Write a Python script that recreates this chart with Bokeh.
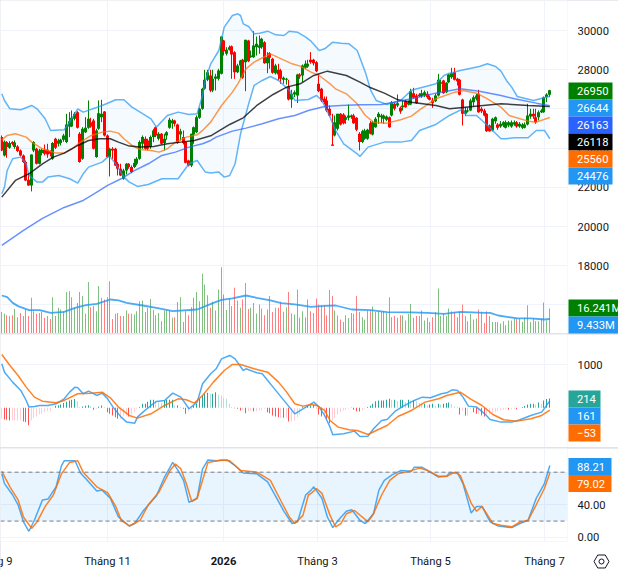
import math
from bokeh.plotting import figure
from bokeh.layouts import column, row
from bokeh.models import Range1d, LinearAxis, FixedTicker, NumeralTickFormatter, Span, BoxAnnotation, ColumnDataSource
from bokeh.core.properties import value
from bokeh.embed import file_html
from bokeh.resources import INLINE

# ---- price candles (203 daily bars) ----
opens = [24560,23625,24305,24016,24305,24050,24084,23880,23625,23285,
22384,22095,23880,23965,23200,23744,23914,23914,23846,23455,
24475,24220,24254,24424,24305,25104,25104,25495,25835,24730,
23455,24815,25036,25325,25410,23540,24985,25580,25869,24645,
23540,23965,23965,23200,22945,22435,22860,23200,23030,23030,
23200,23455,24220,24475,24390,24050,24560,25070,24475,24730,
24254,24645,25036,25274,25410,25206,24696,24560,24305,23370,
23115,24696,24815,25546,26005,27025,27484,27705,26940,27535,
27535,27790,29490,28810,29014,29201,28895,27875,28215,28504,
28385,29490,28640,28640,29150,29116,29150,29405,28334,28844,
28555,27824,27994,27960,27484,27484,27144,26481,26736,26685,
27756,27705,28096,28164,28504,28504,28385,27280,27025,26515,
26430,26005,24186,24645,24985,25750,25716,25444,25546,25580,
25665,25546,24730,24305,24475,24475,25274,24696,25070,25580,
25580,25495,25444,25580,25665,26260,26175,26056,26090,26396,
26226,26226,26804,26685,26736,26651,26685,26770,26600,26430,
26396,26685,27280,27450,26855,27365,27620,27875,27535,27484,
26481,25750,25869,25920,26345,26515,26770,26005,25920,25750,
25155,24900,25376,25206,25104,25155,25036,25155,25104,25206,
25325,25104,25036,25036,25206,25614,25750,25580,25580,25835,
25835,26600,26719]
highs = [24645,24390,24356,24356,24356,24390,24152,23931,23676,23370,
22690,23676,24356,24016,23965,23965,24186,24220,23880,24305,
24526,24475,24475,24730,25750,25835,25920,25835,25886,24815,
25070,25580,26430,25546,25495,24985,26430,26464,25886,24696,
24016,24050,24016,23285,23200,22945,23234,23234,23115,23455,
23540,24390,24645,24594,24475,24645,24985,25104,24815,24764,
24730,24866,25546,25495,25444,25240,24985,24900,24356,23404,
24730,25104,25665,26056,27076,27994,27994,27994,27994,27790,
28045,29694,29524,29150,29235,29235,28946,28300,28504,28555,
29524,29524,28980,29966,29694,29745,29626,29456,28895,28895,
28606,28300,28300,28045,27654,27586,27484,26974,26940,27790,
27824,28266,28470,28504,28895,28555,28436,27790,27076,26634,
26634,26175,25750,25665,25750,25784,25784,25665,26226,25716,
25750,25580,24815,24934,24985,24985,25376,25376,25580,25835,
25750,25716,25665,25614,26396,26345,26736,26124,26430,26464,
26430,27025,27076,26770,26804,26974,26940,26906,26685,26566,
26770,27790,27484,27484,27365,27790,28096,28096,27586,27535,
26515,26090,26056,26515,26685,26770,26974,26090,26005,25784,
25206,25546,25614,25274,25376,25376,25410,25376,25410,25410,
25376,25325,25274,25308,26260,26005,26005,26005,25920,25988,
26634,26804,26974]
lows = [23846,23574,23506,23965,24135,23965,23795,23574,23234,22316,
22078,21789,23795,23166,23166,23625,23625,23506,23574,23404,
23948,24084,24135,24322,24254,24560,25070,25410,25002,23251,
23404,24764,24985,25036,23931,23506,24934,25325,24594,23506,
22554,23455,23081,22605,22571,22384,22656,22945,22724,22979,
23115,23404,23965,23914,23880,23965,24305,24560,24390,24186,
23880,24424,24985,24985,25104,24220,24390,24186,23217,23064,
23030,24220,24764,25495,25954,26974,27416,26855,26855,26940,
27450,27756,28725,28725,28980,27535,27535,27824,27586,27535,
26906,28385,28606,28606,28725,28810,29065,28300,27824,28045,
27790,27756,27450,27280,27280,27246,26430,26056,26600,26294,
27535,27365,28045,28096,28300,28215,27875,26855,26345,26226,
25835,25614,24118,24594,24900,25155,25206,25240,25410,25495,
25240,24866,23880,24254,24424,24424,24696,24645,25036,25240,
25274,25240,25376,25036,25614,25920,26090,25750,25920,26056,
26175,26192,26515,26260,26600,26566,26600,26515,26430,26056,
26345,26634,26855,26770,26804,27314,27535,27450,27195,26685,
25155,25631,25818,25886,26124,26430,25801,25784,25614,24832,
24832,24849,25240,24934,25036,25070,25002,25070,25036,25138,
25036,25036,24968,25002,25155,25495,25495,25240,25410,25784,
25801,26345,26600]
closes = [23880,24322,24050,24254,24220,24288,23846,23625,23285,22350,
22095,23676,24305,23200,23880,23914,23710,23676,23710,24254,
24016,24390,24424,24645,25206,25376,25546,25750,25036,23285,
24985,25036,25495,25104,23965,24900,25784,25750,24645,23540,
23965,23880,23115,22945,22605,22860,23200,23030,22775,23234,
23455,24305,24560,23965,23965,24560,24900,24645,24730,24220,
24475,24815,25444,25410,25240,24254,24866,24254,23251,23115,
24730,25070,25580,26005,27025,27484,27875,26940,27535,27654,
27960,29694,28946,29014,29150,28776,27875,28215,28470,27586,
29524,28436,28725,29235,29320,29235,29575,28334,28640,28606,
27841,28215,27756,27535,27586,27535,26481,26770,26855,27756,
27654,28215,28300,28300,28385,28334,27926,26906,26430,26345,
25920,25665,24118,25325,25750,25206,25274,25580,25665,25665,
25274,24934,24305,24866,24900,24934,24730,25325,25495,25750,
25665,25665,25614,25070,26345,26005,26294,25869,26175,26090,
26345,26906,26566,26294,26651,26804,26855,26600,26464,26294,
26685,27484,27365,26804,27331,27756,27824,27484,27416,26719,
25750,25920,25920,26430,26600,26685,25835,25886,25665,24866,
24866,25495,25580,25036,25240,25325,25325,25325,25325,25325,
25104,25240,25206,25206,25665,25750,25614,25325,25835,25920,
26600,26736,26950]

# ---- Bollinger bands ----
bb_up_i = [0,1,3,7,11,13,16,18,23,25,28,30,37,42,45,48,51,55,57,61,65,69,72,74,75,77,80,82,85,87,88,89,91,93,95,98,101,104,106,109,112,114,117,119,122,125,128,131,134,136,138,142,147,151,160,163,165,169,176,179,182,184,186,188,190,196,202]
bb_up_v = [26770,26430,26005,25954,26175,26005,25495,24900,24934,25325,26005,25835,26175,26464,26464,26090,25835,25495,25070,25665,25835,25716,25750,26685,27450,28300,28980,30170,30765,30850,30765,30340,30204,29830,29864,29966,29779,29745,29966,29915,29660,29456,28980,29065,29405,29354,29320,28980,27875,26940,26430,26226,26430,26950,27280,27705,27824,27960,28164,28300,28164,27926,27450,27100,26633,26430,26644]
bb_lo_i = [0,1,2,4,7,9,10,13,15,17,21,25,28,30,32,37,39,40,42,45,47,50,54,59,65,69,72,75,77,80,82,84,86,88,91,93,96,99,102,106,108,113,116,118,121,123,126,131,132,135,141,147,151,154,160,165,170,171,175,179,184,186,189,194,197,200,202]
bb_lo_v = [21670,22010,22860,23455,23540,23200,22605,22265,22265,22520,22605,22435,22214,22690,23030,23285,23540,23540,23200,22520,22265,22044,22146,22435,22435,23200,23370,22775,22724,22775,22520,22605,23200,24730,26260,27195,27450,27654,27450,26940,26430,26481,26685,26430,25580,24900,24220,23710,23574,24050,24305,24305,24390,24900,25206,25665,26005,25665,25665,25155,24475,24475,24526,24526,24900,24900,24476]

# ---- moving averages ----
ma20_i = [0,2,5,9,11,15,20,23,26,29,33,37,40,43,45,48,51,55,58,61,64,68,72,74,77,81,85,87,90,93,97,99,103,107,110,114,117,121,123,127,131,134,137,142,147,151,154,160,167,170,175,179,184,187,194,197,202]
ma20_v = [24424,24645,24730,24560,24305,23965,23744,23744,23965,24305,24645,24815,24866,24764,24475,24135,23931,23880,23795,23965,24305,24560,24679,24900,25325,26175,26855,27280,28045,28385,28674,28810,28555,28300,28181,27875,27705,27280,27025,26770,26260,25665,25325,25274,25444,25631,25954,26515,26855,26940,26804,26515,26090,25665,25376,25325,25560]
ma50_i = [0,5,10,15,19,23,28,32,36,40,43,47,51,56,61,66,71,77,84,89,94,100,105,110,115,120,127,132,136,141,146,151,160,165,171,184,194,202]
ma50_v = [21500,22350,22690,23200,23540,23744,24135,24390,24475,24475,24305,24101,24050,24084,24220,24305,24390,24628,25206,25546,26175,26736,27110,27280,27705,27926,27705,27365,27076,26804,26464,26345,26175,26005,26090,26260,26175,26118]
ma200_i = [0,8,15,23,30,34,39,44,49,54,59,64,69,74,77,79,85,90,96,102,108,113,119,125,132,140,146,151,160,169,176,184,189,197,202]
ma200_v = [19035,19800,20412,20973,21330,21670,22095,22435,22860,23200,23625,23795,24050,24220,24390,24560,24866,25019,25240,25495,25665,25920,26124,26175,26209,26226,26379,26515,26804,27025,26906,26685,26515,26294,26163]

# ---- volume (millions) ----
volume = [13.9,12.8,11.9,11.3,11.9,16.0,10.6,13.4,11.3,15.6,
11.3,23.2,14.5,12.8,13.4,14.1,10.2,11.3,9.5,23.6,
11.3,16.7,15.6,14.5,26.9,27.5,23.6,16.7,19.9,26.9,
24.3,12.8,33.4,17.1,17.8,14.5,30.8,23.2,22.1,23.6,
34.0,9.5,12.8,13.4,11.3,11.3,15.0,12.8,12.8,12.4,
14.5,21.0,21.5,13.9,16.7,22.5,15.2,11.9,13.4,8.0,
15.0,15.0,15.0,10.2,10.6,20.4,23.6,7.4,14.5,11.9,
17.1,23.2,26.9,21.0,38.8,31.9,24.9,16.7,20.6,15.0,
28.6,43.1,25.4,15.2,22.8,17.8,29.7,21.5,16.7,22.1,
32.9,16.0,16.7,19.9,13.0,18.9,16.2,11.9,15.6,24.3,
13.9,16.7,16.7,20.6,14.1,17.1,26.9,13.0,12.4,28.6,
10.2,14.5,10.6,22.1,14.5,13.4,22.8,18.9,18.2,18.2,
11.9,28.2,24.3,15.0,11.7,9.1,7.4,11.9,10.0,13.4,
12.8,24.3,13.9,10.6,8.9,15.0,15.0,17.6,14.1,14.5,
13.9,14.5,13.4,23.6,10.6,11.3,10.2,11.9,11.7,8.5,
12.6,19.1,10.2,11.3,11.3,15.0,8.5,10.2,7.4,10.6,
13.9,29.3,11.3,12.8,11.3,16.2,14.5,14.1,10.6,13.9,
18.9,11.3,8.0,12.8,9.1,9.8,15.6,14.1,6.9,14.5,
11.3,7.4,7.4,7.4,6.5,8.0,5.4,8.5,8.5,9.8,
9.8,9.8,7.4,10.2,18.4,7.4,9.8,8.0,8.0,9.8,
20.2,8.5,16.241]
vol_ma_i = [0,2,4,6,10,14,18,23,27,31,35,40,43,46,52,57,63,72,78,81,85,90,94,99,103,108,114,119,123,129,136,142,151,157,163,169,178,180,183,190,195,200,202]
vol_ma_v = [24.7,23.6,19.9,17.8,15.2,15.2,13.4,14.1,16.7,18.4,19.3,22.1,21.5,19.9,18.2,16.7,14.5,15.6,19.9,21.9,22.8,24.7,23.2,21.5,19.7,18.9,17.3,18.0,18.2,15.6,15.2,13.9,13.7,13.4,12.8,14.1,13.4,13.4,11.7,9.8,9.8,9.1,9.433]

# ---- MACD ----
macd_i = [0,1,4,7,9,10,12,14,17,20,23,25,27,28,30,32,35,37,39,41,44,46,49,50,52,55,57,60,63,66,69,72,74,77,79,81,84,86,89,90,94,96,98,100,103,106,108,111,114,115,117,119,121,122,126,130,132,135,137,140,142,145,148,152,155,158,162,164,166,168,170,172,175,178,180,184,188,191,195,199,202]
macd_v = [1023,829,597,403,170,16,31,54,54,93,209,364,481,465,326,388,287,341,209,16,-217,-333,-357,-217,-101,54,147,171,341,248,-23,132,558,791,907,1139,1217,1139,868,907,814,791,636,481,248,16,-140,-23,93,132,16,-178,-450,-628,-605,-543,-667,-659,-488,-295,-271,-78,39,171,248,233,326,349,419,403,248,39,16,-140,-271,-333,-333,-279,-178,-101,161]
sig_i = [0,3,6,9,12,15,20,23,28,33,37,40,43,47,50,55,60,65,68,71,74,78,82,85,88,93,98,102,105,108,111,114,116,119,121,124,128,131,135,138,142,146,151,156,161,164,169,173,177,181,185,190,195,199,202]
sig_v = [1240,984,752,481,248,155,116,171,326,341,364,233,16,-178,-240,-140,54,209,186,109,287,597,868,1008,1008,907,829,597,364,93,39,78,54,-62,-295,-450,-512,-527,-620,-527,-411,-202,-62,132,209,287,364,194,54,-155,-279,-310,-256,-178,-53]
hist = [-256,-271,-279,-295,-295,-295,-295,-295,-318,-333,-403,-295,-240,-202,-155,-140,-101,-78,-78,-8,
47,62,78,109,140,171,186,202,155,16,31,47,62,39,-47,-23,31,54,16,-101,
-140,-178,-217,-256,-256,-202,-186,-202,-155,-101,-23,16,93,93,140,186,186,171,132,109,
171,186,186,186,54,54,16,-23,-140,-85,-47,54,93,209,287,326,349,326,326,364,
302,287,233,209,93,16,-8,-23,-62,-47,-124,-78,-62,-78,-78,-62,-62,-23,-101,-124,
-178,-202,-217,-217,-233,-233,-318,-318,-295,-217,-155,31,16,54,54,70,-8,-155,-202,-202,
-256,-357,-295,-233,-155,-101,-62,-47,-23,8,-47,-78,-85,-62,-23,16,47,93,155,171,
171,171,186,209,186,186,155,186,186,132,186,171,171,155,109,93,93,54,78,93,
47,93,78,93,109,124,78,31,16,-155,-62,-178,-178,-23,-101,-140,-140,-178,-202,-155,
-155,-124,-101,-78,-62,-47,-31,-47,-39,-23,-31,0,16,39,78,93,93,70,124,93,
171,202,214]

# ---- Stochastic ----
k_i = [0,1,4,6,8,10,12,15,17,20,22,23,27,29,31,35,37,40,43,47,49,52,57,60,63,65,67,69,72,74,76,79,83,86,89,94,98,101,104,107,109,112,114,115,118,120,122,124,127,129,132,134,137,139,141,144,147,151,152,155,158,161,164,165,168,170,172,173,175,177,180,183,188,191,194,197,200,202]
k_v = [78,66,52,40,19,7.5,21,46,47,62,88,94,94,79,72,57,58,48,25,14,17,32,51,74,92,82,70,43,48,84,95,94,95,88,79,78,68,50,32,17,19,52,58,62,48,25,12,21,32,34,21,17,29,58,70,77,82,81,86,86,80,74,75,79,79,66,42,30,38,38,19,14,12,17,21,48,66,88.21]
d_i = [0,3,6,8,11,13,16,19,22,25,28,30,35,39,42,44,47,51,54,58,62,64,66,68,70,72,74,76,81,84,88,94,99,103,106,108,111,113,114,116,118,121,123,125,127,130,135,137,140,143,146,150,154,157,161,164,167,169,173,175,177,181,184,188,191,194,197,200,202]
d_v = [81,62,46,25,11,19,38,52,78,92,94,80,62,55,38,21,14,21,40,56,82,90,84,66,44,48,70,92,95,94,82,80,70,44,25,17,27,52,54,60,54,27,13,17,29,33,19,29,52,70,78,81,85,82,75,75,80,76,42,32,38,17,15,13,19,21,40,60,79.02]

# ---- axis texts ----
price_ticks = [16000,18000,20000,22000,24000,26000,28000,30000]
month_ticks = [38.96,81.72,116.36,158.02,200.03]
month_names = ["Tháng 11","","Tháng 3","Tháng 5","Tháng 7"]
# last-value tags: text, colour, right edge, centre row
tag_texts = ["26950","26644","26163","26118","25560","24476","16.241M","9.433M","214","161","\u221253","88.21","79.02"]
tag_colors = ["#008000","#2196f3","#2962ff","#000000","#ff6d00","#2196f3","#008000","#2196f3","#26a69a","#2196f3","#ff6d00","#2196f3","#ff6d00"]
tag_right = [612,612,612,612,612,612,618,618,600,600,600,611,611]
tag_mid = [90.5,107.5,124.5,141.5,158.5,175.5,307.5,324.5,398.5,415.5,432.5,466,483]

FONT = "Roboto"
FS = "11.2px"
TXT = "#131722"
GRID = "#f0f3fa"
PX = 2.713; X0 = 1.3
x_range = Range1d((0-X0)/PX, (567-X0)/PX)
n = len(closes)
idx = list(range(n))
# centre each bar on a whole screen pixel (the canvas is offset half a pixel) so 1px bars stay crisp
snapped = [(math.floor(X0+PX*i)-X0)/PX for i in idx]

def py(y): return 30000-(y-30)*51.02
def my(y): return (407.3-y)*23.26
def sy(y): return (540.7-y)/0.85

def base(h, y0, y1, bottom=0):
    p = figure(width=618, height=h, x_range=x_range, y_range=Range1d(y0, y1), y_axis_location="right",
               output_backend="svg", toolbar_location=None, min_border_left=0, min_border_right=51,
               min_border_top=0, min_border_bottom=bottom, outline_line_color=None,
               background_fill_color="white", border_fill_color="white")
    p.xaxis.visible = False
    p.xgrid.ticker = FixedTicker(ticks=month_ticks)
    p.xgrid.grid_line_color = GRID
    p.ygrid.grid_line_color = GRID
    a = p.yaxis[0]
    a.axis_line_color = None; a.major_tick_line_color = None; a.minor_tick_line_color = None
    a.major_label_text_font = FONT; a.major_label_text_font_size = FS; a.major_label_text_color = TXT
    a.major_label_standoff = 4
    return p

# ======== price + volume pane ========
main = base(333, py(333), py(0))
main.yaxis[0].ticker = FixedTicker(ticks=price_ticks)
main.yaxis[0].formatter = NumeralTickFormatter(format="0")
main.ygrid.ticker = FixedTicker(ticks=price_ticks)
main.extra_y_ranges = {"vol": Range1d(0, 333*0.65)}

GREEN = "#008000"; RED = "#ff0000"
up = [c >= o for o, c in zip(opens, closes)]
colors = [GREEN if u else RED for u in up]
main.vbar(x=snapped, top=volume, bottom=0, width=1/PX, fill_color=colors, fill_alpha=0.5, line_color=None, y_range_name="vol")
main.line(vol_ma_i, vol_ma_v, line_color="#2196f3", line_width=1.8, line_alpha=0.8, y_range_name="vol")

main.patch(bb_up_i + bb_lo_i[::-1], bb_up_v + bb_lo_v[::-1], fill_color="#2196f3", fill_alpha=0.05, line_color=None)
src = ColumnDataSource(dict(x=snapped, o=opens, h=highs, l=lows, c=closes, col=colors))
main.segment("x", "h", "x", "l", source=src, line_color="col", line_width=1)
main.vbar("x", 3/PX, "o", "c", source=src, fill_color="col", line_color=None)
main.line(bb_up_i, bb_up_v, line_color="#2196f3", line_width=1.5, line_alpha=0.7)
main.line(bb_lo_i, bb_lo_v, line_color="#2196f3", line_width=1.5, line_alpha=0.7)
main.line(ma20_i, ma20_v, line_color="#ff6d00", line_width=1.5, line_alpha=0.7)
main.line(ma50_i, ma50_v, line_color="#000000", line_width=1.5, line_alpha=0.75)
main.line(ma200_i, ma200_v, line_color="#2962ff", line_width=1.5, line_alpha=0.7)

# ======== MACD pane ========
macd = base(113, my(447), my(334))
macd.yaxis[0].ticker = FixedTicker(ticks=[1000])
macd.yaxis[0].formatter = NumeralTickFormatter(format="0")
macd.ygrid.ticker = FixedTicker(ticks=[1000])
hcol = []
for i, h in enumerate(hist):
    prev = hist[i-1] if i else h
    if h >= 0:
        hcol.append("#26a69a" if h >= prev else "#b2dfdb")
    else:
        hcol.append("#ffcdd2" if h >= prev else "#ff5252")
macd.vbar(x=snapped, top=hist, bottom=0, width=1/PX, fill_color=hcol, line_color=None)
macd.line(macd_i, macd_v, line_color="#2196f3", line_width=1.5, line_alpha=0.8)
macd.line(sig_i, sig_v, line_color="#ff6d00", line_width=1.5, line_alpha=0.85)

# ======== Stochastic pane ========
st = base(122, sy(545), sy(448), bottom=25)
st.yaxis[0].ticker = FixedTicker(ticks=[0,40,80])
st.yaxis[0].formatter = NumeralTickFormatter(format="0.00")
st.ygrid.ticker = FixedTicker(ticks=[0,40,80])
st.add_layout(BoxAnnotation(bottom=20, top=80, fill_color="#2196f3", fill_alpha=0.1, line_color=None, level="underlay"))
for lv in (20, 80):
    st.add_layout(Span(location=lv, dimension="width", line_color="#787b86", line_width=1, line_dash="4 3"))
st.line(k_i, k_v, line_color="#2196f3", line_width=1.5, line_alpha=0.8)
st.line(d_i, d_v, line_color="#ff6d00", line_width=1.5, line_alpha=0.85)

xa = LinearAxis(ticker=FixedTicker(ticks=month_ticks), major_label_overrides=dict(zip(month_ticks, month_names)))
xa.axis_line_color = None; xa.major_tick_line_color = None; xa.minor_tick_line_color = None
xa.major_label_text_font = FONT; xa.major_label_text_font_size = FS; xa.major_label_text_color = TXT
xa.major_label_standoff = 7
st.add_layout(xa, "below")

# ======== transparent overlay for last-value tags, clipped month label, settings icon ========
ov = figure(width=618, height=570, x_range=Range1d(0, 618), y_range=Range1d(570, 0), x_axis_location=None,
            y_axis_location=None, output_backend="svg", toolbar_location=None, min_border=0,
            outline_line_color=None, background_fill_color=None, border_fill_color=None)
ov.grid.visible = False
ov.quad(left=[568]*len(tag_mid), right=tag_right, top=[m-8.5 for m in tag_mid], bottom=[m+8.5 for m in tag_mid],
        fill_color=tag_colors, line_color=None)
ov.text(x=[576.5]*len(tag_mid), y=tag_mid, text=tag_texts, text_color="white", text_font=value(FONT),
        text_font_size=FS, text_align="left", text_baseline="middle")
ov.text(x=[12], y=[560.5], text=["Tháng 9"], text_color=TXT, text_font=value(FONT), text_font_size=FS,
        text_align="right", text_baseline="middle")
ov.text(x=[223], y=[560.5], text=["2026"], text_color=TXT, text_font=value(FONT), text_font_size=FS,
        text_font_style="bold", text_align="center", text_baseline="middle")
ov.scatter(x=[601], y=[561], marker="hex", size=15, fill_alpha=0, line_color=TXT, line_width=1)
ov.scatter(x=[601], y=[561], marker="circle", size=5, fill_alpha=0, line_color=TXT, line_width=1)

panes = column(main, macd, st, spacing=1, width=618, height=570, styles={"background-color":"#e0e3eb"})
over = row(ov, width=618, height=570, styles={"position":"absolute","left":"0px","top":"0px"})
page = column(panes, over, width=618, height=570, styles={"position":"absolute","left":"0px","top":"0px"})
open("out.html", "w").write(file_html(page, INLINE))
